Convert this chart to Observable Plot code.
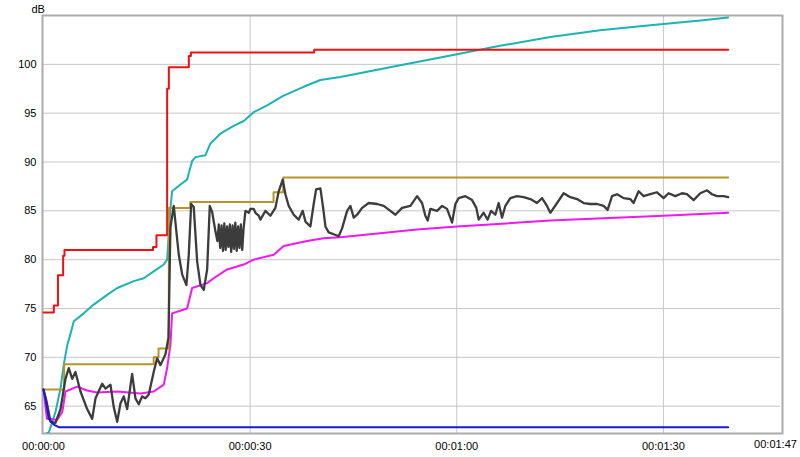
<!DOCTYPE html>
<html>
<head>
<meta charset="utf-8">
<script src="https://cdn.jsdelivr.net/npm/d3@7"></script>
<script src="https://cdn.jsdelivr.net/npm/@observablehq/plot@0.6"></script>
<style>
  html, body { margin: 0; padding: 0; background: #fff; }
  #chart svg { display: block; }
</style>
</head>
<body>
<div id="chart"></div>
<script>
// ---- Data (time in seconds, level in dB) ----
const yTicks = [65, 70, 75, 80, 85, 90, 95, 100];
const xTicks = [0, 30, 60, 90];
const xEnd = 107;

const maxPeak = [ // red, step
  [0,74.6],[1.5,75.3],[2.1,78.4],[2.85,80.4],[3.05,81.0],[15.9,81.3],[16.4,82.5],
  [17.95,97.5],[18.2,99.7],[21.1,100.85],[21.4,101.2],[39.3,101.5],[99.4,101.5]
];
const exposure = [ // cyan
  [0.4,62.2],[0.77,62.3],[1.74,64.4],[2.47,66.8],[2.95,69.3],[3.44,71.2],[3.92,72.4],
  [4.4,73.7],[5.84,74.5],[7.29,75.4],[9.24,76.4],[10.7,77.1],[13.1,77.8],[14.56,78.1],
  [16.0,78.8],[17.46,79.5],[17.95,80.0],[18.43,85.3],[18.67,87.0],[19.88,87.7],
  [20.85,88.2],[21.58,90.1],[22.06,90.5],[23.51,90.7],[24.24,91.9],[25.69,92.9],
  [27.6,93.7],[29.07,94.2],[30.52,95.1],[32.46,95.8],[34.87,96.8],[37.77,97.7],
  [40.2,98.4],[43.1,98.7],[51.8,99.9],[59.1,100.9],[66.3,101.9],[73.6,102.8],
  [80.8,103.5],[88.1,104.0],[95.4,104.5],[99.4,104.8]
];
const maxLevel = [ // gold, step
  [0,66.7],[3.0,69.3],[16.0,70.0],[16.7,70.9],[18.2,85.3],[21.3,85.9],[33.4,86.9],
  [34.8,88.4],[99.4,88.4]
];
const leq = [ // magenta
  [0,66.7],[0.5,63.7],[2.0,63.6],[2.72,64.4],[3.2,66.5],[4.89,67.0],[6.34,66.6],
  [7.79,66.4],[10.7,66.5],[14.08,66.3],[16.0,66.5],[17.46,67.2],[17.95,68.9],
  [18.43,71.3],[18.67,74.5],[20.85,75.0],[21.58,77.1],[23.76,77.6],[24.72,78.1],
  [26.66,79.0],[29.07,79.5],[30.52,80.0],[33.43,80.5],[34.87,81.4],[38.27,81.9],
  [40.68,82.2],[43.1,82.3],[44.56,82.4],[54.24,83.1],[60.05,83.4],[73.58,84.0],
  [89.98,84.5],[99.4,84.8]
];
const minLevel = [ // blue
  [0,66.7],[0.29,65.8],[0.77,63.7],[1.5,63.1],[2.2,62.85],[99.4,62.85]
];
const level = [ // dark gray, instantaneous
  [0,66.7],[0.44,65.5],[1.02,63.4],[1.74,63.3],[2.47,64.7],[3.19,67.8],[3.67,68.9],
  [4.17,67.8],[4.64,68.5],[5.37,66.5],[6.34,64.7],[7.07,63.7],[7.55,65.8],[8.52,67.3],
  [9.0,66.8],[9.72,67.2],[10.2,64.9],[10.7,63.4],[11.18,65.3],[11.65,66.0],[12.15,64.7],
  [12.87,68.3],[13.35,65.8],[13.83,65.2],[14.32,66.0],[14.8,65.8],[15.28,66.2],
  [16.0,68.5],[16.5,69.9],[16.98,69.2],[17.7,70.3],[18.14,72.0],[18.43,83.3],
  [18.91,85.5],[19.64,80.5],[20.13,78.5],[20.75,77.4],[21.09,80.5],[21.44,85.7],
  [21.81,85.4],[22.31,79.8],[22.79,77.4],[23.27,76.9],[23.76,79.0],[24.14,85.5],
  [24.48,84.9],[24.96,82.9],[25.25,81.9],[25.45,83.6],[25.65,81.2],[25.85,83.5],
  [26.05,80.9],[26.25,83.7],[26.45,81.0],[26.65,83.4],[26.85,81.3],[27.05,83.6],
  [27.25,80.8],[27.45,83.5],[27.65,81.1],[27.85,83.8],[28.05,80.9],[28.25,83.4],
  [28.45,81.2],[28.65,83.6],[28.85,81.0],[29.05,83.2],[29.32,85.0],[29.8,84.8],
  [30.04,85.2],[30.52,85.2],[30.77,84.8],[31.25,84.5],[31.49,84.1],[32.22,85.0],
  [32.95,84.5],[33.67,85.3],[34.15,87.0],[34.73,88.2],[35.12,86.7],[35.6,85.5],
  [36.33,84.6],[37.05,84.1],[37.63,85.0],[38.03,83.9],[38.75,83.4],[39.23,85.7],
  [39.58,87.2],[40.2,87.3],[40.6,85.3],[40.93,83.4],[41.41,82.8],[42.13,82.6],
  [42.86,82.4],[43.35,83.2],[44.08,85.0],[44.56,85.5],[45.04,84.3],[45.53,84.6],
  [46.26,85.3],[47.21,85.8],[48.43,85.7],[49.39,85.5],[50.36,85.0],[51.09,84.6],
  [52.06,85.3],[53.27,85.5],[54.24,86.5],[54.96,85.8],[55.44,84.5],[55.78,84.0],
  [56.17,85.2],[57.14,85.0],[57.87,85.5],[58.59,85.2],[59.32,83.8],[59.8,85.7],
  [60.28,86.3],[61.25,86.5],[62.22,86.1],[62.84,85.3],[63.18,84.1],[63.9,84.8],
  [64.48,84.1],[64.98,85.0],[65.6,84.6],[66.08,85.8],[66.57,84.3],[67.05,85.5],
  [67.78,86.3],[68.75,86.5],[69.71,86.4],[70.68,86.2],[71.65,85.8],[72.38,86.3],
  [73.1,85.5],[73.58,84.8],[74.56,85.8],[75.52,86.8],[76.49,86.4],[77.46,86.2],
  [78.42,85.8],[79.39,85.7],[80.36,85.7],[81.32,85.5],[81.9,85.1],[82.54,86.5],
  [83.27,86.7],[84.22,86.3],[85.2,86.2],[85.67,85.8],[86.4,87.0],[87.13,86.5],
  [88.1,86.7],[89.07,86.9],[90.03,86.3],[90.75,86.8],[91.73,86.5],[92.7,86.8],
  [93.42,86.7],[94.38,86.1],[95.36,86.8],[96.33,87.1],[97.05,86.7],[97.78,86.5],
  [98.74,86.5],[99.4,86.4]
];

const fmtTime = s => {
  const h = Math.floor(s / 3600), m = Math.floor(s / 60) % 60, ss = Math.round(s % 60);
  const p = n => String(n).padStart(2, "0");
  return `${p(h)}:${p(m)}:${p(ss)}`;
};

const lw = 2;
const chart = Plot.plot({
  width: 800,
  height: 457,
  marginLeft: 43,
  marginRight: 20,
  marginTop: 15,
  marginBottom: 24,
  style: {fontFamily: "'Liberation Sans', Arial, sans-serif", fontSize: "11px", color: "#000", background: "#fff"},
  x: {domain: [0, xEnd]},
  y: {domain: [62.2, 105]},
  marks: [
    Plot.ruleY(yTicks, {stroke: "#c6c6c6", strokeWidth: 1}),
    Plot.ruleX(xTicks.slice(1), {stroke: "#c6c6c6", strokeWidth: 1}),
    Plot.frame({stroke: "#ababab", strokeWidth: 2, insetLeft: -1, insetRight: -2}),
    Plot.axisY(yTicks, {tickSize: 0, tickPadding: 7, label: null, fill: "#000"}),
    Plot.axisX(xTicks, {tickSize: 0, tickPadding: 9, tickFormat: fmtTime, label: null, fill: "#000"}),
    Plot.text([xEnd], {x: d => d, frameAnchor: "bottom", dy: 14, text: d => fmtTime(d), textAnchor: "middle", dx: -5, fill: "#000"}),
    Plot.text(["dB"], {frameAnchor: "top-left", text: d => d, dx: -12, dy: -10, fill: "#000"}),
    Plot.line(exposure, {x: "0", y: "1", stroke: "#1db3b0", strokeWidth: lw, clip: true}),
    Plot.line(maxPeak, {x: "0", y: "1", stroke: "#f01010", strokeWidth: lw, curve: "step-after"}),
    Plot.line(leq, {x: "0", y: "1", stroke: "#f018f0", strokeWidth: lw}),
    Plot.line(maxLevel, {x: "0", y: "1", stroke: "#b4952a", strokeWidth: lw, curve: "step-after"}),
    Plot.line(level, {x: "0", y: "1", stroke: "#3c3c3c", strokeWidth: 2.3}),
    Plot.line(minLevel, {x: "0", y: "1", stroke: "#1a1ad0", strokeWidth: lw})
  ]
});
document.getElementById("chart").appendChild(chart);
</script>
</body>
</html>
